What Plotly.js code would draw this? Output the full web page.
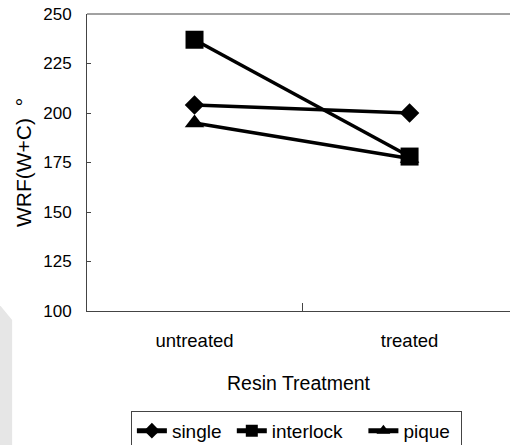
<!DOCTYPE html>
<html>
<head>
<meta charset="utf-8">
<script src="https://cdn.plot.ly/plotly-3.0.1.min.js"></script>
<style>html,body{margin:0;padding:0;background:#fff;}#chart{width:510px;height:445px;}</style>
</head>
<body>
<div id="chart"></div>
<script>
const categories = ["untreated", "treated"];
const singleVals = [204, 200];
const interlockVals = [237, 178];
const piqueVals = [195, 177];
const seriesNames = ["single\u00a0", "interlock\u00a0\u00a0\u00a0", "pique\u00a0"];
const yTicks = [100, 125, 150, 175, 200, 225, 250];

const font = "Liberation Sans, Arial, sans-serif";
function tr(name, vals, symbol, size) {
  return {
    type: "scatter", mode: "lines+markers", name: name,
    x: categories, y: vals,
    line: {color: "#000", width: 3.5},
    marker: {symbol: symbol, size: size, color: "#000", line: {width: 0}},
    cliponaxis: false
  };
}
const data = [
  tr(seriesNames[0], singleVals, "diamond", 15),
  tr(seriesNames[1], interlockVals, "square", 18),
  tr(seriesNames[2], piqueVals, "triangle-up", 17)
];
const layout = {
  width: 510, height: 445,
  margin: {l: 87, r: 0, t: 14, b: 134, autoexpand: false},
  paper_bgcolor: "#fff", plot_bgcolor: "#fff",
  font: {family: font, size: 19, color: "#000"},
  showlegend: true,
  xaxis: {
    type: "category", range: [-0.5, 1.467], automargin: false,
    tickson: "boundaries", ticks: "inside", ticklen: 8, tickcolor: "#444", tickwidth: 1,
    showline: true, linecolor: "#444", linewidth: 1, showgrid: false, zeroline: false,
    ticklabelstandoff: 13,
    tickfont: {size: 18.5},
    title: {text: "Resin Treatment", font: {size: 19.5}, standoff: 26}
  },
  yaxis: {
    range: [100, 250], tickvals: yTicks, ticks: "inside", ticklen: 4, tickcolor: "#444",
    automargin: false,
    showline: true, linecolor: "#444", linewidth: 1, showgrid: false, zeroline: false,
    ticklabelstandoff: 11,
    tickfont: {size: 17},
    title: {text: "WRF(W+C)\u00a0\u00a0°", font: {size: 21}, standoff: 5}
  },
  legend: {
    orientation: "h", x: 0.495, xanchor: "center", y: -0.336, yanchor: "top",
    bordercolor: "#444", borderwidth: 1, bgcolor: "#fff",
    font: {size: 19}, itemwidth: 30, itemsizing: "constant"
  },
  shapes: [
    {type: "line", xref: "paper", yref: "paper", x0: 0, x1: 1, y0: 1, y1: 1, line: {color: "#444", width: 1}},
    {type: "path", xref: "paper", yref: "paper", layer: "below",
     path: "M -0.206 0.02 L -0.177 -0.03 L -0.177 -0.46 L -0.206 -0.46 Z",
     fillcolor: "#e6e6e6", line: {width: 0}}
  ]
};
Plotly.newPlot("chart", data, layout, {displayModeBar: false, staticPlot: true});
</script>
</body>
</html>
